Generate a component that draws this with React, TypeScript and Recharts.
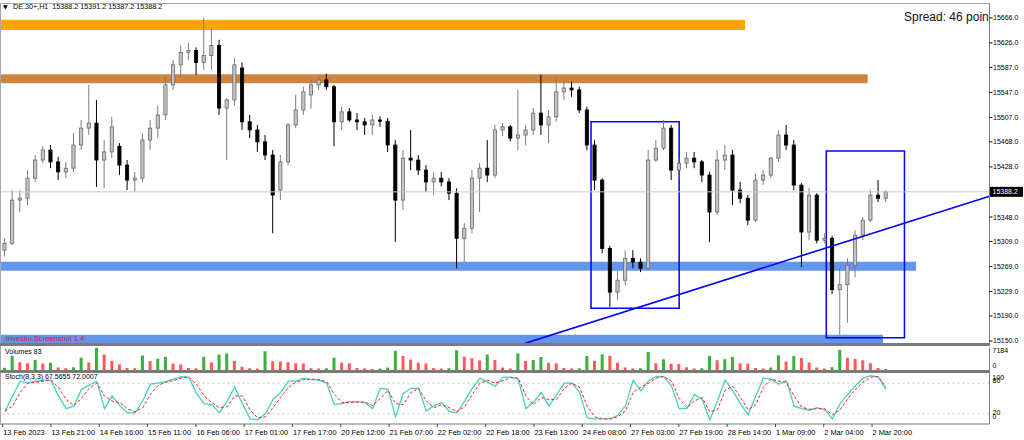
import React from "react";
import {
  ComposedChart,
  Bar,
  Line,
  XAxis,
  YAxis,
  ReferenceArea,
  ReferenceLine,
  Cell,
} from "recharts";

const opens = [
  15295, 15306, 15375, 15378, 15410, 15439, 15455, 15436, 15420, 15426,
  15463, 15490, 15498, 15439, 15452, 15461, 15431, 15407, 15410, 15471,
  15490, 15511, 15559, 15591, 15611, 15614, 15595, 15606, 15622, 15522,
  15535, 15586, 15500, 15487, 15468, 15447, 15391, 15436, 15495, 15519,
  15543, 15559, 15567, 15556, 15500, 15516, 15503, 15500, 15495, 15503,
  15501, 15463, 15375, 15442, 15439, 15423, 15404, 15410, 15404, 15386,
  15314, 15330, 15410, 15426, 15415, 15487, 15492, 15474, 15479, 15487,
  15514, 15495, 15508, 15548, 15554, 15551, 15519, 15463, 15407, 15298,
  15228, 15247, 15282, 15276, 15266, 15439, 15458, 15490, 15423, 15434,
  15442, 15436, 15415, 15356, 15439, 15447, 15391, 15378, 15343, 15407,
  15415, 15442, 15479, 15463, 15399, 15324, 15383, 15311, 15314, 15232,
  15240, 15271, 15319, 15343, 15383, 15378,
];
const highs = [
  15314, 15391, 15391, 15423, 15447, 15461, 15463, 15444, 15436, 15482,
  15503, 15559, 15535, 15471, 15508, 15466, 15439, 15420, 15482, 15503,
  15526, 15571, 15599, 15622, 15626, 15619, 15666, 15650, 15631, 15538,
  15602, 15595, 15511, 15495, 15479, 15455, 15447, 15498, 15543, 15556,
  15567, 15575, 15577, 15559, 15524, 15522, 15514, 15506, 15511, 15509,
  15506, 15471, 15455, 15487, 15447, 15431, 15420, 15420, 15410, 15394,
  15338, 15423, 15434, 15471, 15495, 15498, 15495, 15551, 15495, 15522,
  15575, 15519, 15572, 15564, 15564, 15556, 15524, 15471, 15410, 15302,
  15263, 15295, 15295, 15282, 15455, 15471, 15503, 15495, 15442, 15452,
  15452, 15439, 15420, 15455, 15463, 15455, 15404, 15383, 15418, 15423,
  15444, 15487, 15495, 15471, 15402, 15394, 15386, 15322, 15318, 15268,
  15282, 15327, 15348, 15391, 15407, 15391,
];
const lows = [
  15285, 15303, 15356, 15367, 15404, 15434, 15426, 15407, 15410, 15420,
  15455, 15479, 15396, 15394, 15442, 15415, 15391, 15388, 15404, 15455,
  15474, 15503, 15551, 15570, 15599, 15575, 15583, 15583, 15511, 15439,
  15526, 15487, 15474, 15452, 15439, 15322, 15375, 15431, 15490, 15511,
  15521, 15551, 15551, 15461, 15487, 15500, 15487, 15479, 15479, 15492,
  15452, 15308, 15359, 15423, 15415, 15388, 15383, 15397, 15375, 15266,
  15276, 15322, 15356, 15404, 15410, 15477, 15469, 15455, 15463, 15479,
  15479, 15466, 15500, 15535, 15540, 15514, 15455, 15391, 15290, 15204,
  15215, 15239, 15266, 15260, 15263, 15436, 15455, 15407, 15410, 15426,
  15426, 15404, 15308, 15351, 15423, 15367, 15370, 15335, 15340, 15399,
  15410, 15436, 15455, 15391, 15268, 15311, 15306, 15306, 15225, 15160,
  15179, 15252, 15311, 15340, 15372, 15372,
];
const closes = [
  15306, 15375, 15378, 15410, 15439, 15455, 15436, 15420, 15426, 15463,
  15490, 15498, 15439, 15452, 15492, 15431, 15407, 15410, 15471, 15490,
  15511, 15559, 15591, 15611, 15614, 15595, 15606, 15622, 15522, 15535,
  15591, 15500, 15487, 15468, 15447, 15383, 15436, 15495, 15519, 15548,
  15559, 15567, 15556, 15500, 15516, 15503, 15500, 15495, 15503, 15501,
  15463, 15375, 15442, 15439, 15423, 15404, 15410, 15404, 15386, 15314,
  15330, 15410, 15426, 15415, 15487, 15492, 15474, 15479, 15487, 15514,
  15495, 15508, 15548, 15554, 15551, 15519, 15463, 15407, 15298, 15228,
  15247, 15282, 15276, 15266, 15439, 15458, 15490, 15423, 15434, 15442,
  15436, 15415, 15356, 15439, 15447, 15391, 15378, 15343, 15407, 15415,
  15442, 15479, 15463, 15399, 15324, 15383, 15311, 15314, 15232, 15240,
  15271, 15319, 15343, 15383, 15378, 15388.2,
];
const volumes = [
  850, 4600, 2600, 2300, 3300, 2200, 2400, 900, 700, 1000,
  4000, 2500, 7184, 5000, 3000, 1900, 800, 700, 4700, 3000,
  3700, 4200, 2200, 1900, 800, 700, 4300, 2600, 5000, 5300,
  3000, 1200, 700, 600, 6000, 2900, 2800, 2600, 2300, 2200,
  700, 600, 700, 4000, 2400, 2300, 800, 600, 500, 600,
  900, 6200, 4500, 3400, 2400, 2200, 800, 600, 700, 6300,
  4300, 3800, 3100, 5000, 3300, 900, 600, 5300, 3000, 3300,
  4200, 2400, 2300, 800, 600, 700, 4500, 3000, 5100, 4600,
  2400, 900, 600, 700, 5800, 2300, 3500, 2100, 2000, 1000,
  600, 700, 4500, 3200, 3500, 4200, 2300, 2200, 800, 600,
  900, 4800, 2800, 4500, 3900, 2500, 900, 600, 1000, 6500,
  4000, 3600, 3200, 2300, 800, 500,
];
const stochMain = [
  24, 55, 84, 80, 84, 86, 86, 55, 30, 35,
  68, 76, 84, 30, 55, 36, 22, 22, 45, 78,
  80, 83, 88, 93, 92, 60, 40, 38, 22, 45,
  72, 40, 10, 8, 20, 48, 62, 84, 84, 90,
  87, 86, 80, 38, 40, 44, 44, 42, 30, 70,
  68, 14, 60, 70, 70, 25, 36, 42, 24, 22,
  45, 70, 90, 82, 74, 92, 92, 88, 30, 43,
  62, 35, 57, 80, 80, 62, 12, 10, 10, 10,
  17, 36, 86, 65, 85, 93, 93, 75, 30, 30,
  58, 48, 8, 45, 86, 65, 40, 18, 55, 90,
  88, 78, 85, 35, 30, 27, 32, 28, 10, 40,
  58, 75, 90, 95, 92, 67.5655,
];
const stochSignal = [
  26, 35, 62, 80, 82, 84, 86, 72, 48, 36,
  50, 70, 80, 55, 45, 42, 30, 24, 32, 58,
  76, 82, 85, 90, 92, 78, 55, 42, 32, 34,
  55, 55, 28, 12, 14, 32, 52, 72, 82, 87,
  88, 87, 83, 58, 42, 42, 43, 43, 36, 50,
  66, 40, 38, 62, 70, 45, 32, 38, 32, 24,
  34, 58, 80, 86, 80, 85, 91, 90, 55, 38,
  52, 48, 48, 70, 80, 72, 35, 14, 10, 10,
  14, 26, 62, 72, 80, 90, 93, 84, 50, 32,
  45, 52, 24, 28, 66, 74, 52, 28, 38, 72,
  88, 84, 82, 55, 33, 29, 30, 30, 18, 28,
  50, 68, 82, 92, 93, 72.0007,
];
const timeLabels = [
  "13 Feb 2023", "13 Feb 21:00", "14 Feb 16:00", "15 Feb 11:00", "16 Feb 06:00",
  "17 Feb 01:00", "17 Feb 17:00", "20 Feb 12:00", "21 Feb 07:00", "22 Feb 02:00",
  "22 Feb 18:00", "23 Feb 13:00", "24 Feb 08:00", "27 Feb 03:00", "27 Feb 19:00",
  "28 Feb 14:00", "1 Mar 09:00", "2 Mar 04:00", "2 Mar 20:00",
];
const priceTicks = [
  15150, 15190, 15229, 15269, 15309, 15348, 15428, 15468, 15507, 15547, 15587, 15626, 15666,
];

const LAST_PRICE = 15388.2;
// one time label every 19 hourly bars = 6.3 candle slots
const LABEL_STEP = 6.303;
const LABEL_OFFSET = -0.28;

// horizontal zones drawn on the chart: price range and the slot where they end
const zones = [
  { from: 15646.7, to: 15663, end: 96.6, color: "#FFA500" },
  { from: 15561.6, to: 15576, end: 112.6, color: "#CD853F" },
  { from: 15262.3, to: 15276.6, end: 118.9, color: "#6495ED" },
  { from: 15146, to: 15160, end: 114.6, color: "#6495ED" },
];
const boxes = [
  { x1: 76.5, x2: 88.0, y1: 15202.2, y2: 15500.3 },
  { x1: 107.2, x2: 117.4, y1: 15155.3, y2: 15453.5 },
];
const trend = [
  { x: 67.9, y: 15146.3 },
  { x: 128.5, y: 15381.3 },
];

const W = 1024;
const AXIS_W = 34.5;
const X_DOMAIN: [number, number] = [-0.5, 128.5];
const PRICE_DOMAIN: [number, number] = [15146, 15689.8];
const FRAME = "#7a7a7a";
const UP_VOL = "#3cae3c";
const DOWN_VOL = "#ff5a5a";

const candles = opens.map((o, i) => ({ i, o, h: highs[i], l: lows[i], c: closes[i] }));
const volumeRows = volumes.map((v, i) => ({ i, v, up: i === 0 || v >= volumes[i - 1] }));
const stochRows = stochMain.map((k, i) => ({ i, k, d: stochSignal[i] }));
const timeTicks = timeLabels.map((_, k) => LABEL_OFFSET + k * LABEL_STEP);

function Candle(props: any) {
  const { x, y, width, height, payload } = props;
  if (!payload || height == null) return null;
  const { o, h, l, c } = payload;
  const top = Math.min(y, y + height);
  const span = Math.abs(height);
  const k = h > l ? span / (h - l) : 0;
  const cx = x + width / 2;
  const yo = top + (h - o) * k;
  const yc = top + (h - c) * k;
  const bull = c >= o;
  const bodyTop = Math.min(yo, yc);
  const bodyH = Math.max(Math.abs(yc - yo), 1);
  return (
    <g>
      <line x1={cx} x2={cx} y1={top} y2={top + span} stroke={bull ? "#7c7c7c" : "#000"} strokeWidth={1} />
      <rect
        x={cx - 1.6}
        y={bodyTop}
        width={3.2}
        height={bodyH}
        fill={bull ? "#c4c4c4" : "#000"}
        stroke={bull ? "#6a6a6a" : "#000"}
        strokeWidth={0.8}
      />
    </g>
  );
}

function PriceTag(props: any) {
  const { viewBox } = props;
  if (!viewBox) return null;
  const right = viewBox.x + viewBox.width;
  return (
    <g>
      <rect x={right + 0.5} y={viewBox.y - 5} width={33} height={10} fill="#000" />
      <text x={right + 3} y={viewBox.y} dominantBaseline="central" fontSize={7} fill="#fff">
        {LAST_PRICE.toFixed(1)}
      </text>
    </g>
  );
}

// MT4 puts sub-window labels above/below their level, not centred on it
function panelTick(shift: Record<number, number>) {
  return function PanelTick(props: any) {
    const { y, payload } = props;
    const v = payload.value;
    return (
      <text x={W - AXIS_W + 3} y={y + (shift[v] ?? 0)} dominantBaseline="central" fontSize={7} fill="#000">
        {v}
      </text>
    );
  };
}

function TimeTick(props: any) {
  const { x, y, index } = props;
  return (
    <text x={x + 0.5} y={y + 6} fontSize={7.4} fill="#000" textAnchor="start">
      {timeLabels[index]}
    </text>
  );
}

const overlayText: React.CSSProperties = {
  position: "absolute",
  whiteSpace: "nowrap",
  lineHeight: "10px",
  fontSize: 7,
  color: "#000",
};

export default function App() {
  const margin = { top: 0, right: 0, bottom: 0, left: 1 };
  return (
    <div
      style={{
        position: "absolute",
        left: 0,
        top: 0,
        width: W,
        height: 440,
        background: "#fff",
        overflow: "hidden",
        fontFamily: "'Liberation Sans', Arial, sans-serif",
      }}
    >
      {/* price window */}
      <div style={{ position: "absolute", left: 0, top: 0 }}>
        <ComposedChart width={W} height={344} data={candles} margin={{ ...margin, top: 3, bottom: 0.5 }}>
          <XAxis type="number" dataKey="i" domain={X_DOMAIN} allowDataOverflow hide />
          <YAxis
            orientation="right"
            width={AXIS_W}
            domain={PRICE_DOMAIN}
            allowDataOverflow
            ticks={priceTicks}
            interval={0}
            tickFormatter={(v: number) => v.toFixed(1)}
            tick={{ fontSize: 7, fill: "#000" }}
            tickSize={3}
            tickMargin={0.5}
            tickLine={{ stroke: "#000" }}
            axisLine={{ stroke: FRAME }}
          />
          {zones.map((z, n) => (
            <ReferenceArea
              key={n}
              x1={X_DOMAIN[0]}
              x2={z.end}
              y1={z.from}
              y2={z.to}
              fill={z.color}
              fillOpacity={1}
              stroke="none"
              ifOverflow="visible"
            />
          ))}
          <ReferenceLine y={LAST_PRICE} stroke="#c8c8c8" strokeWidth={1} label={<PriceTag />} />
          <Bar
            dataKey={(d: any) => [d.l, d.h]}
            barSize={3}
            shape={<Candle />}
            isAnimationActive={false}
          />
          {boxes.map((b, n) => (
            <ReferenceArea
              key={n}
              x1={b.x1}
              x2={b.x2}
              y1={b.y1}
              y2={b.y2}
              fill="none"
              fillOpacity={0}
              stroke="#0000ff"
              strokeWidth={1.5}
              ifOverflow="visible"
            />
          ))}
          <ReferenceLine segment={trend} stroke="#0000ff" strokeWidth={1.6} ifOverflow="visible" />
        </ComposedChart>
      </div>

      {/* volumes window */}
      <div style={{ position: "absolute", left: 0, top: 345 }}>
        <ComposedChart width={W} height={26} data={volumeRows} margin={{ ...margin, top: 2.5, bottom: 0.5 }}>
          <XAxis type="number" dataKey="i" domain={X_DOMAIN} allowDataOverflow hide />
          <YAxis
            orientation="right"
            width={AXIS_W}
            domain={[0, 7184]}
            allowDataOverflow
            ticks={[0, 7184]}
            interval={0}
            tickLine={false}
            axisLine={{ stroke: FRAME }}
            tick={panelTick({ 7184: 2.5, 0: -4.8 })}
          />
          <Bar dataKey="v" barSize={3} isAnimationActive={false}>
            {volumeRows.map((r) => (
              <Cell key={r.i} fill={r.up ? UP_VOL : DOWN_VOL} />
            ))}
          </Bar>
        </ComposedChart>
      </div>

      {/* stochastic window + time axis */}
      <div style={{ position: "absolute", left: 0, top: 372 }}>
        <ComposedChart width={W} height={68} data={stochRows} margin={{ ...margin, top: 1 }}>
          <XAxis
            type="number"
            dataKey="i"
            domain={X_DOMAIN}
            allowDataOverflow
            ticks={timeTicks}
            interval={0}
            height={16}
            tickSize={3}
            tickLine={{ stroke: "#444" }}
            axisLine={{ stroke: FRAME, strokeWidth: 1.2 }}
            tick={<TimeTick />}
          />
          <YAxis
            orientation="right"
            width={AXIS_W}
            domain={[0, 100]}
            allowDataOverflow
            ticks={[0, 20, 80, 100]}
            interval={0}
            tickLine={false}
            axisLine={{ stroke: FRAME }}
            tick={panelTick({ 100: 4.3, 80: -2.5, 20: -1.1, 0: -7.3 })}
          />
          <ReferenceLine y={80} stroke="#c4c4c4" strokeDasharray="2 3" />
          <ReferenceLine y={20} stroke="#c4c4c4" strokeDasharray="2 3" />
          <Line
            dataKey="k"
            type="linear"
            stroke="#48cfc4"
            strokeWidth={1.3}
            dot={false}
            isAnimationActive={false}
          />
          <Line
            dataKey="d"
            type="linear"
            stroke="#ff2020"
            strokeWidth={1}
            strokeDasharray="3 2"
            dot={false}
            isAnimationActive={false}
          />
        </ComposedChart>
      </div>

      {/* window frame and separators */}
      <div style={{ position: "absolute", left: 0, top: 2.5, width: 990, height: 1, background: "#a8a8a8" }} />
      <div style={{ position: "absolute", left: 0, top: 2.5, width: 1, height: 422, background: "#a8a8a8" }} />
      <div style={{ position: "absolute", left: 0, top: 343.3, width: 990, height: 2.5, background: FRAME }} />
      <div style={{ position: "absolute", left: 0, top: 370.3, width: 990, height: 2.4, background: FRAME }} />

      {/* window captions */}
      <div style={{ ...overlayText, left: 3, top: 2, fontSize: 6, fontFamily: "'DejaVu Sans'" }}>▼</div>
      <div style={{ ...overlayText, left: 13, top: 2, fontSize: 7.2 }}>
        DE.30+,H1&nbsp;&nbsp;15388.2 15391.2 15387.2 15388.2
      </div>
      <div
        style={{
          ...overlayText,
          left: 904,
          top: 10,
          width: 85,
          overflow: "hidden",
          fontSize: 12,
          lineHeight: "14px",
          color: "#111",
        }}
      >
        Spread: 46 points
      </div>
      <div style={{ ...overlayText, left: 6, top: 333.5, fontSize: 7.5, color: "#dc143c" }}>
        Investio Screenshot 1.4
      </div>
      <div style={{ ...overlayText, left: 5, top: 347 }}>Volumes 83</div>
      <div style={{ ...overlayText, left: 5, top: 372 }}>Stoch(8,3,3) 67.5655 72.0007</div>
    </div>
  );
}
